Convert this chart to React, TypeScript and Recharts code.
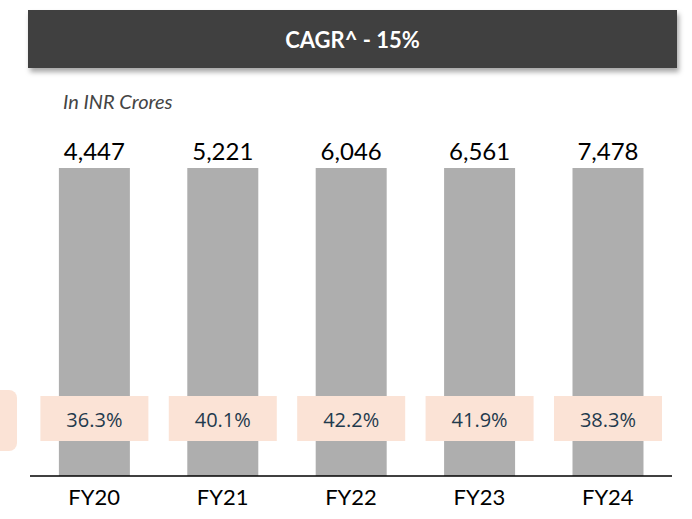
import { BarChart, Bar, XAxis, YAxis, LabelList } from "recharts";

const years = ["FY20", "FY21", "FY22", "FY23", "FY24"];
const revenue = [4447, 5221, 6046, 6561, 7478];
const margin = [36.3, 40.1, 42.2, 41.9, 38.3];
// bars in the source are drawn at one common height
const barLevel = [100, 100, 100, 100, 100];

const data = years.map((y, i) => ({
  year: y,
  level: barLevel[i],
  revenue: revenue[i],
  margin: margin[i],
}));

const PEACH = "#fbe3d6";
const FONT = "Lato, 'Open Sans', sans-serif";

function MarginBox(props: any) {
  const { x, y, width, height, value } = props;
  const cx = x + width / 2;
  const cy = y + height - 57;
  return (
    <g>
      <rect x={cx - 54} y={cy - 23} width={108} height={45} fill={PEACH} />
      <text
        x={cx}
        y={cy}
        textAnchor="middle"
        dominantBaseline="central"
        fontSize={20}
        fill="#1f3a4d"
        fontFamily="'Open Sans', sans-serif"
      >
        {value.toFixed(1)}%
      </text>
    </g>
  );
}

export default function App() {
  return (
    <div
      style={{
        position: "absolute",
        left: 0,
        top: 0,
        width: 692,
        height: 519,
        background: "#fff",
        fontFamily: FONT,
      }}
    >
      <div
        style={{
          position: "absolute",
          left: 28,
          top: 10,
          width: 649,
          height: 58,
          background: "#404040",
          boxShadow: "2px 4px 5px rgba(0,0,0,0.35)",
          color: "#fff",
          fontWeight: 700,
          fontSize: 22,
          display: "flex",
          alignItems: "center",
          justifyContent: "center",
        }}
      >
        CAGR^ - 15%
      </div>
      <div
        style={{
          position: "absolute",
          left: 63,
          top: 89,
          fontSize: 20,
          fontStyle: "italic",
          color: "#444",
        }}
      >
        In INR Crores
      </div>
      <div
        style={{
          position: "absolute",
          left: 0,
          top: 390,
          width: 17,
          height: 61,
          background: PEACH,
          borderRadius: "0 8px 8px 0",
        }}
      />
      <div style={{ position: "absolute", left: 0, top: 0 }}>
        <BarChart
          width={692}
          height={519}
          data={data}
          margin={{ top: 168, right: 20, bottom: 0, left: 30 }}
          barCategoryGap="22.5%"
        >
          <XAxis
            dataKey="year"
            height={43}
            tickLine={false}
            axisLine={{ stroke: "#000", strokeWidth: 1.5 }}
            tickMargin={7}
            tick={{ fontSize: 22, fill: "#000", fontFamily: FONT }}
          />
          <YAxis hide domain={[0, 100]} />
          <Bar dataKey="level" fill="#aeaeae" isAnimationActive={false}>
            <LabelList
              dataKey="revenue"
              position="top"
              offset={8}
              fill="#000"
              fontSize={24}
              fontFamily={FONT}
              formatter={(v: any) => Number(v).toLocaleString("en-US")}
            />
            <LabelList dataKey="margin" content={<MarginBox />} />
          </Bar>
        </BarChart>
      </div>
    </div>
  );
}
